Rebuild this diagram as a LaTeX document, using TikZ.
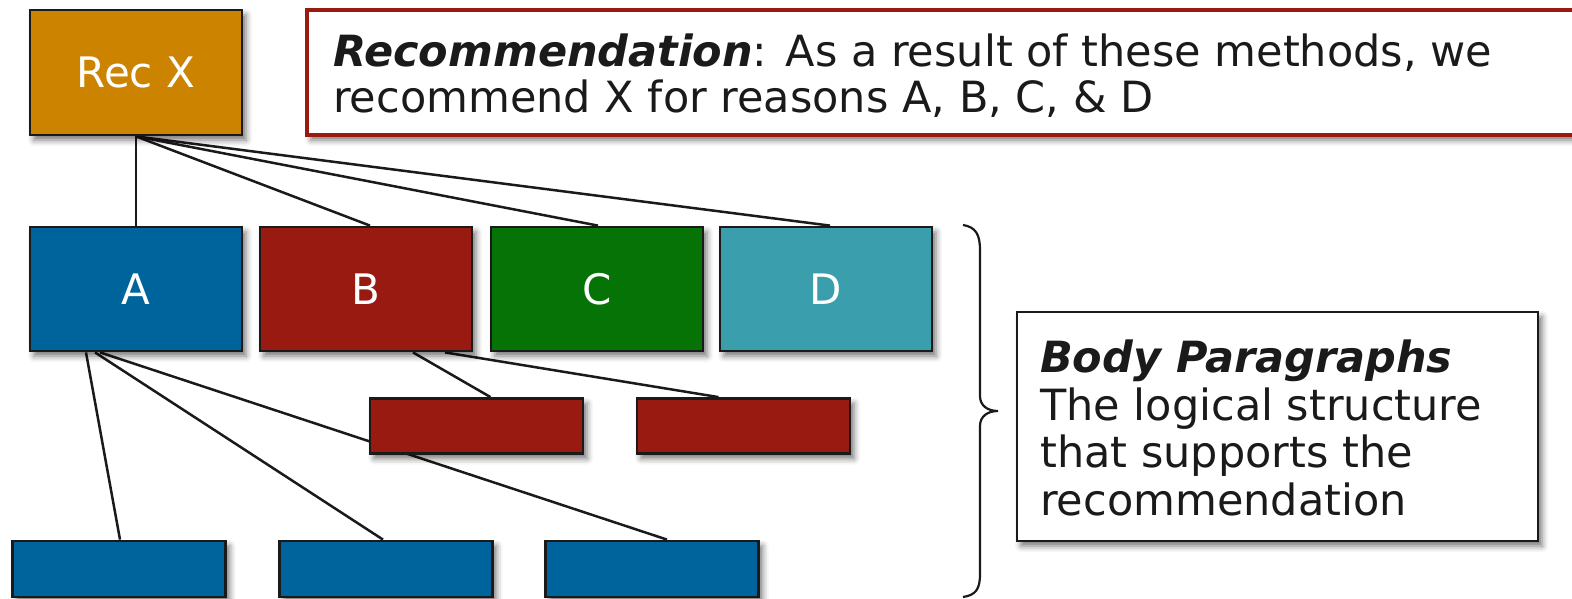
\documentclass[tikz,border=0pt]{standalone}
\usepackage{fontspec}
\setmainfont{DejaVu Sans}
\usetikzlibrary{shadows.blur,backgrounds}
\definecolor{recorange}{HTML}{CC8400}
\definecolor{bblue}{HTML}{00649C}
\definecolor{bred}{HTML}{991A10}
\definecolor{bgreen}{HTML}{067306}
\definecolor{bteal}{HTML}{3A9EAD}
\definecolor{ink}{HTML}{1A1A1A}
\begin{document}
\begin{tikzpicture}[x=1pt,y=-1pt,
  shad/.style={blur shadow={shadow xshift=4pt, shadow yshift=-5pt, shadow blur radius=6pt, shadow opacity=55}},
  box/.style={draw=ink, line width=2.8pt, inner sep=0pt, text=white,
    font=\fontsize{42}{48}\selectfont, shad},
  bigbox/.style={box, minimum width=212pt, minimum height=124pt},
  smallbox/.style={box, minimum width=213pt, minimum height=55pt},
  conn/.style={draw=ink, line width=2.5pt},
  txt/.style={inner sep=0pt, text=ink, align=left}]
\useasboundingbox (0,0) rectangle (1572,598);

% boxes
\node[bigbox, fill=recorange, minimum height=125pt] (recx) at (136,72.5) {Rec X};
\node[bigbox, fill=bblue]  (A) at (136,289) {A};
\node[bigbox, fill=bred]   (B) at (366,289) {B};
\node[bigbox, fill=bgreen] (C) at (597,289) {C};
\node[bigbox, fill=bteal]  (D) at (826,289) {D};
\node[smallbox, fill=bred] (b1) at (476.5,426) {};
\node[smallbox, fill=bred] (b2) at (743.5,426) {};
\node[smallbox, fill=bblue, minimum height=56pt] (a1) at (119,569) {};
\node[smallbox, fill=bblue, minimum height=56pt] (a2) at (386,569) {};
\node[smallbox, fill=bblue, minimum height=56pt] (a3) at (652,569) {};

% recommendation box
\node[draw=bred, fill=white, line width=4pt, inner sep=0pt, minimum width=1284pt, minimum height=125pt, shad] (rec) at (949,72.5) {};
\node[txt, anchor=west, font=\fontsize{43}{46}\selectfont] (rectext) at (333,76)
  {\textbf{\textit{Recommendation}}: As a result of these methods, we\\recommend X for reasons A, B, C, \& D};

% body box
\node[draw=ink, fill=white, line width=2.8pt, inner sep=0pt, minimum width=521pt, minimum height=229pt, shad] (body) at (1277.5,426.5) {};
\node[txt, anchor=west, font=\fontsize{43}{47.5}\selectfont] (bodytext) at (1040,428)
  {\textbf{\textit{Body Paragraphs}}\\The logical structure\\that supports the\\recommendation};

% brace
\draw[ink, line width=2.2pt] (963,225) .. controls (976,227) and (980,235) .. (980,250)
  -- (980,396) .. controls (980,406) and (988,411) .. (998,411)
  .. controls (988,411) and (980,416) .. (980,426)
  -- (980,574) .. controls (980,589) and (976,595) .. (963,597);

% connectors
\begin{scope}[on background layer]
\draw[conn] (recx.south) -- (A.north);
\draw[conn] (recx.south) -- ([xshift=4pt]B.north);
\draw[conn] (recx.south) -- ([xshift=1pt]C.north);
\draw[conn] (recx.south) -- ([xshift=4pt]D.north);
\draw[conn] ([xshift=-50pt]A.south) -- ([xshift=1pt]a1.north);
\draw[conn] ([xshift=-41pt]A.south) -- ([xshift=-3pt]a2.north);
\draw[conn] ([xshift=-36pt]A.south) -- ([xshift=15pt]a3.north);
\draw[conn] ([xshift=47pt]B.south) -- ([xshift=14pt]b1.north);
\draw[conn] ([xshift=79pt]B.south) -- ([xshift=-25pt]b2.north);
\end{scope}
\end{tikzpicture}
\end{document}
